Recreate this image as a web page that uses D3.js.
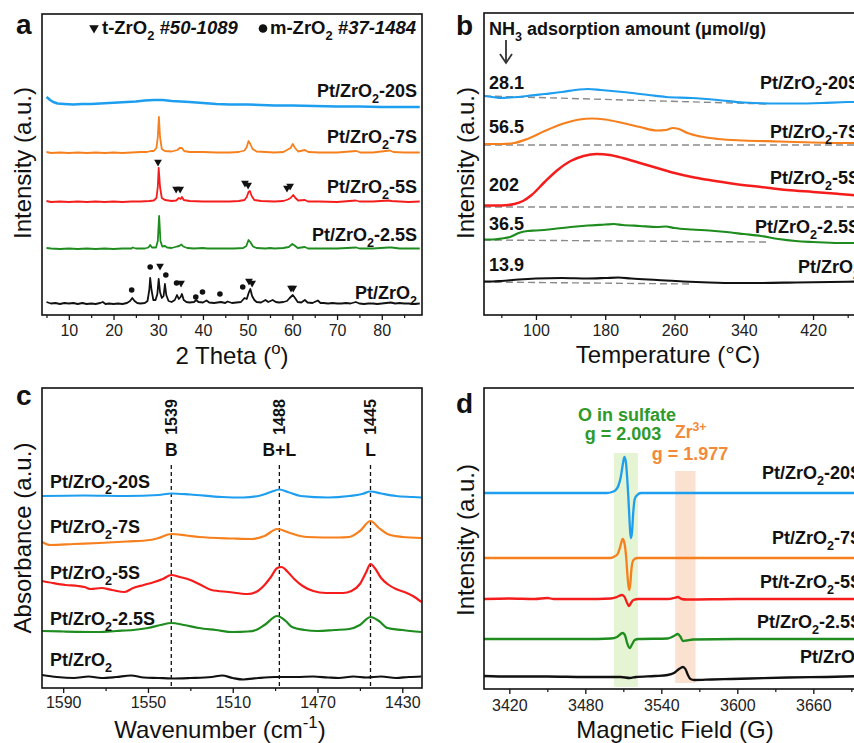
<!DOCTYPE html>
<html><head><meta charset="utf-8">
<script src="https://cdn.jsdelivr.net/npm/d3@7"></script>
<style>body{margin:0;background:#fff} svg{display:block} text{font-family:"Liberation Sans",Arial,Helvetica,sans-serif}</style>
</head><body>
<svg id="c" width="854" height="743"></svg>
<script>
// ================= DATA =================
// Panel a: XRD (2θ, relative intensity)
const xrdNames = ["Pt/ZrO_{2}-20S","Pt/ZrO_{2}-7S","Pt/ZrO_{2}-5S","Pt/ZrO_{2}-2.5S","Pt/ZrO_{2}"];
const xrdOffsets = [208, 162, 113, 66, 11];
const xrd20S = [[5,10],[5.3,9],[5.8,7],[6.5,5],[7.5,3.5],[9,3],[11,2.5],[13,3],[15,3],[17,3.5],[19,4],[21,4.5],[23,5],[25,5.5],[27,6.5],[29,7],[31,7],[33,6],[35,5.5],[37,5],[40,4],[43,3],[46,2.5],[50,2.5],[53,2],[56,1.5],[60,1.5],[65,1],[70,0.5],[75,0.5],[80,0],[85,0],[88.5,0]];
const xrd7S = [[5,1],[6,0],[8,0.5],[10,0],[12,0.5],[14,0],[16,0.5],[18,0],[20,0.5],[22,0],[24,0.5],[26,1],[27.5,1],[28.3,2],[29,2],[29.6,5],[29.9,16],[30.15,36],[30.4,16],[30.8,4],[31.5,2],[33,1.5],[34.3,3],[34.8,5],[35.3,5],[35.8,2],[37,1],[40,1],[43,0.5],[46,0.5],[48,1],[49.3,2.5],[49.8,6],[50.2,12],[50.6,9],[51.1,4],[52,1.5],[54,1],[56,0.5],[58,1],[59.2,4],[59.6,5],[60.1,9],[60.6,5],[61.3,1.5],[62.8,3],[63.6,1],[66,0.5],[70,0.5],[74.3,2],[75.2,0.5],[78,0.5],[81.8,2.5],[82.6,1],[85,0.5],[88.5,0.5]];
const xrd5S = [[5,1],[6,0],[8,0.5],[10,0],[12,0.5],[14,0],[16,0.5],[18,0],[20,0.5],[22,0],[24,0.5],[26,0.5],[28,1],[29,1.5],[29.6,4],[29.9,15],[30.1,34],[30.4,15],[30.8,4],[31.5,2],[33,1],[34,1.5],[34.6,4],[35,3],[35.3,5],[35.7,2],[37,1],[40,0.5],[43,0.5],[46,0.5],[48,1],[49.3,2],[49.8,5],[50.2,10],[50.5,11],[50.9,6],[51.5,2],[53,1],[56,0.5],[58,1],[59,2.5],[59.6,4],[60.2,7],[60.7,4],[61.3,1.5],[62.8,2],[63.5,0.5],[66,0.5],[70,0],[74.2,1.5],[75,0.5],[78,0.5],[81.5,1.5],[82.2,1],[84,0.5],[86,0],[88.5,0.5]];
const xrd25S = [[5,1],[6,0.5],[8,0],[10,0.5],[12,0],[14,0.5],[16,0],[18,0.5],[20,0],[22,0.5],[24,0.5],[24.3,1.5],[25,0.5],[27,0.5],[27.8,1.5],[28.2,4],[28.6,1.5],[29.5,1.5],[29.9,8],[30.2,33],[30.5,8],[30.9,2.5],[31.5,3],[32,1.5],[33,1],[34.2,2.5],[34.7,3],[35.2,4.5],[35.6,2.5],[36.5,1],[38,0.5],[40,1],[41,0.5],[43,0.5],[45,0.5],[47,0.5],[49,1],[49.7,3],[50.2,9],[50.6,7],[51.2,2.5],[52,1],[54,0.5],[55,1],[56,0.5],[58,1],[59.2,2],[60,5],[60.5,3.5],[61.2,1],[62.8,2],[63.5,0.5],[66,0.5],[70,0.5],[74.3,1.5],[75,0.5],[78,0.5],[81.5,1.5],[82.2,1.5],[84,0.5],[86,0.5],[88.5,0.5]];
const xrd0S = [[5,2],[6,0.5],[7,1],[8,0],[9,1],[10,0.5],[11,1],[12,0],[13,1],[14,0],[15,0.5],[16,0],[17,1],[17.6,2],[18.2,0],[19,0.5],[20,0],[21,0.5],[22,0],[23,1],[23.7,3],[24.2,6],[24.7,3],[25.3,1],[26,0.5],[27,1],[27.6,3],[28.0,14],[28.2,26],[28.5,14],[28.9,4],[29.4,4],[29.8,10],[30.1,25],[30.4,12],[30.8,6],[31.2,8],[31.5,20],[31.8,9],[32.3,3],[33,2],[33.7,4],[34.2,9],[34.6,5],[35.0,7],[35.3,10],[35.7,4],[36.3,2],[37,1.5],[38,2],[38.5,4],[39,2],[40,1.5],[40.8,3.5],[41.4,1.5],[42.5,1],[44,2],[45,1],[45.5,2.5],[46.5,1],[47.5,1.5],[48.5,2],[49.3,6],[49.8,5],[50.3,12],[50.6,15],[51,8],[51.5,4],[52,2],[53,1.5],[54,4],[54.6,2],[55.6,4],[56.3,2],[57,1.5],[58,2],[58.8,3],[59.4,6],[60.1,9],[60.6,6],[61.2,2],[62,1.5],[62.8,4],[63.4,1.5],[64.5,1],[65.7,3.5],[66.3,1],[67,1],[68,0.5],[69,1],[70,0.5],[71,0.5],[72,1],[73,0.5],[74.2,2],[75,0.5],[76,0],[77,0.5],[78,0.5],[79,0],[80,0.5],[81,1],[82,1.5],[83,0.5],[84,1],[85,0.5],[86,0.5],[87,0],[88.5,0.5]];
const xrdSeries = [xrd20S, xrd7S, xrd5S, xrd25S, xrd0S];
// phase markers (2θ, intensity level)
const tMarks = [[29.95,153],[34.0,126],[34.9,126],[49.4,132],[50.1,130],[58.8,127],[59.5,129],[30.4,49],[35.1,32],[50.3,34],[51.0,32],[59.7,27],[60.2,27]];
const mMarks = [[24.06,25],[28.2,48],[31.7,40],[34.1,32],[38.4,18],[39.9,23],[43.8,21],[48.9,28]];
const xrdTicks = [10,20,30,40,50,60,70,80];

// Panel b: NH3-TPD (°C, relative intensity)
const tpdNames = ["Pt/ZrO_{2}-20S","Pt/ZrO_{2}-7S","Pt/ZrO_{2}-5S","Pt/ZrO_{2}-2.5S","Pt/ZrO_{2}"];
const tpdAmounts = ["28.1","56.5","202","36.5","13.9"];
const tpdOffsets = [219, 171, 110, 76, 34];
const tpd20S = [[40,0],[50,-1],[60,-2],[70,-1.5],[90,0],[110,2],[130,4],[150,6.5],[160,7],[175,6],[200,4],[230,1],[250,-1],[280,-2],[310,-4],[340,-6.5],[370,-7.5],[400,-7.5],[430,-7],[460,-6],[480,-6]];
const tpd7S = [[40,0],[60,0],[75,1],[90,5],[110,13],[130,20],[150,24.5],[165,25.5],[180,24.5],[200,21],[220,17],[240,13.5],[250,14],[258,16],[265,15],[275,11],[290,7.5],[310,5],[340,3.5],[380,2.5],[420,1.5],[460,1],[480,1]];
const tpd5S = [[40,-0.5],[60,-0.5],[75,1],[85,4],[95,10],[110,23],[125,35],[140,44],[155,49],[170,51],[185,50],[200,47],[220,42],[240,37],[260,32],[280,28],[300,25],[330,21],[360,18],[390,15],[420,13],[450,11],[480,9]];
const tpd25S = [[40,-0.5],[50,-0.5],[60,0.5],[70,2],[80,6],[90,8],[100,8.5],[120,10],[140,12],[160,13.5],[180,14.5],[190,15],[200,14],[220,13],[240,12],[250,12.5],[260,11],[280,9.5],[300,8.5],[320,7],[340,5],[360,3],[380,0],[400,-2],[420,-3],[450,-4],[480,-4]];
const tpd0S = [[40,-0.5],[50,-0.5],[60,0],[80,1.5],[100,2.5],[130,3],[160,2.5],[180,3],[195,3.5],[210,2.5],[240,1],[270,-0.5],[300,-1.5],[330,-2],[360,-2],[400,-1.5],[440,-1],[480,-0.5]];
const tpdSeries = [tpd20S, tpd7S, tpd5S, tpd25S, tpd0S];
const tpdBaselines = [[[40,0],[367,-8]], [[40,-1],[480,-1]], [[40,-2],[480,-2]], [[40,-1],[367,-3]], [[40,-1],[281,-3]]];
const tpdTicks = [100,180,260,340,420];

// Panel c: pyridine IR (cm-1, relative absorbance)
const irNames = ["Pt/ZrO_{2}-20S","Pt/ZrO_{2}-7S","Pt/ZrO_{2}-5S","Pt/ZrO_{2}-2.5S","Pt/ZrO_{2}"];
const irOffsets = [192, 148, 103, 58, 11];
const ir20S = [[1600,0],[1580,0.5],[1560,0],[1545,1],[1539,2.5],[1530,1.5],[1515,-1],[1505,-1.5],[1497,0.5],[1492,4],[1488,6.5],[1484,4],[1478,0],[1465,-1.5],[1455,0],[1449,2],[1445,4.5],[1440,2.5],[1433,0],[1425,-1],[1421,-1.5]];
const ir7S = [[1600,-2],[1596,-5],[1585,-4],[1573,-3],[1560,-1.5],[1549,0],[1545,2],[1539,6],[1532,4.5],[1526,3],[1510,1.5],[1501,1],[1495,4],[1489,11],[1483,7],[1475,3],[1460,2.5],[1455,3],[1450,9],[1445,19],[1441,12],[1437,6],[1430,3],[1421,2]];
const ir5S = [[1600,4],[1595,2],[1589,0],[1583,-1],[1580,-2],[1577,-4],[1572,-3],[1567,-5],[1561,-7],[1557,-3],[1552,0],[1547,3],[1543,6],[1539,10],[1535,8],[1530,5],[1525,0],[1520,-5],[1512,-7],[1503,-9],[1499,-7],[1495,0],[1492,8],[1489,17],[1487,18],[1484,13],[1481,6],[1477,-1],[1472,-6],[1466,-8],[1458,-8],[1454,-6],[1450,1],[1447,13],[1445,21],[1443,17],[1440,7],[1437,1],[1433,-4],[1429,-7],[1425,-11],[1421,-17]];
const ir25S = [[1600,-1],[1590,-1.5],[1573,-2],[1565,-1],[1557,0],[1550,2],[1544,5],[1539,7],[1533,5],[1526,2],[1518,0],[1510,-2],[1503,-1.5],[1499,0],[1495,5],[1489,14],[1485,9],[1482,3],[1476,0],[1470,-1],[1462,0],[1455,1],[1450,5],[1445,13],[1441,9],[1437,2],[1430,0],[1421,-2]];
const ir0S = [[1600,2],[1593,0],[1585,-1],[1578,0.5],[1572,-1],[1565,0],[1558,1.5],[1552,-0.5],[1545,-1],[1539,-1.5],[1530,-1],[1520,0],[1515,1.5],[1510,-1],[1505,-2.5],[1498,-1],[1490,0],[1480,0],[1472,0.5],[1465,-0.5],[1460,-1],[1453,0.5],[1447,-0.5],[1440,0.5],[1433,-1],[1427,0],[1421,0.5]];
const irSeries = [ir20S, ir7S, ir5S, ir25S, ir0S];
const irBands = [1539, 1488, 1445];
const irBandNames = ["B", "B+L", "L"];
const irTicks = [1590,1550,1510,1470,1430];

// Panel d: EPR (G, relative intensity)
const eprNames = ["Pt/ZrO_{2}-20S","Pt/ZrO_{2}-7S","Pt/t-ZrO_{2}-5S","Pt/ZrO_{2}-2.5S","Pt/ZrO_{2}"];
const eprOffsets = [196, 131, 90, 50, 13];
const epr20S = [[3400,0],[3497,0],[3501,1],[3504,3],[3506,7],[3508,16],[3509.5,28],[3510.8,36],[3512,31],[3513,16],[3514,-5],[3515,-30],[3515.8,-45],[3516.8,-40],[3517.8,-20],[3519,-6],[3521,-2],[3524,0],[3700,0]];
const epr7S = [[3400,0],[3500,0],[3503,1.5],[3505.5,4],[3507.5,11],[3509.5,19],[3511,14],[3512.3,0],[3513.3,-18],[3514.5,-32],[3515.5,-26],[3516.5,-10],[3518,-2],[3521,0],[3700,0]];
const epr5S = [[3400,0],[3420,0.5],[3440,0],[3450,1],[3455,0],[3480,0],[3500,0.5],[3505,2],[3509,4],[3511,2],[3513,-4],[3514.5,-7],[3516,-4],[3518,-1],[3522,0],[3545,0],[3550,1],[3553,2],[3556,0],[3560,-0.5],[3600,0],[3650,0],[3700,0]];
const epr25S = [[3400,0],[3440,0],[3480,0],[3500,0.5],[3505,2],[3509.5,6],[3511.5,3],[3513,-4],[3515,-9],[3517,-5],[3519,-1],[3522,0],[3545,0.5],[3550,3],[3553,5],[3555,2.5],[3557,-2],[3560,-1.5],[3565,-0.5],[3600,0],[3700,0]];
const epr0S = [[3400,0],[3420,-0.5],[3450,-0.5],[3480,-1],[3500,-1],[3508,-1],[3515,-2],[3520,-1],[3535,0],[3545,1],[3550,3],[3554,7],[3557,9],[3559,7],[3561,1],[3563,-3],[3566,-4],[3580,-3.5],[3595,-3],[3610,-2.5],[3640,-1.5],[3670,-1],[3700,0]];
const eprSeries = [epr20S, epr7S, epr5S, epr25S, epr0S];
const eprBandRanges = [[3502.6, 3521.5, 2, 236], [3551, 3567, 6, 218]];
const eprTicks = [3420,3480,3540,3600,3660];

// ================= DRAW =================
const colors = ["#1E9EEF", "#F7801E", "#F51C1C", "#1E8C1E", "#111111"];
const svg = d3.select("#c");
svg.append("rect").attr("width",854).attr("height",743).attr("fill","#fff");

function rich(el, str, fs) {
  const re = /([_^])\{([^}]*)\}/g;
  let last = 0, m, shift = 0;
  const add = (t, dy, size) => { const ts = el.append("tspan").text(t); if (dy) ts.attr("dy", dy); if (size) ts.attr("font-size", size); };
  while ((m = re.exec(str))) {
    if (m.index > last) { add(str.slice(last, m.index), -shift); shift = 0; }
    const d = m[1] === "_" ? fs * 0.32 : -fs * 0.4;
    add(m[2], d - shift, fs * 0.7); shift = d;
    last = re.lastIndex;
  }
  if (last < str.length) add(str.slice(last), -shift);
  return el;
}
function txt(g, x, y, str, fs, opts = {}) {
  const t = g.append("text").attr("x", x).attr("y", y).attr("font-size", fs)
    .attr("font-weight", opts.bold ? "bold" : "normal")
    .attr("fill", opts.fill || "#111")
    .attr("text-anchor", opts.anchor || "start");
  if (opts.italic) t.attr("font-style", "italic");
  if (opts.rotate) t.attr("transform", `rotate(-90,${x},${y})`);
  return rich(t, str, fs);
}

function panel(box, xDomain, yDomain, ticks, minor, pad) {
  const g = svg.append("g");
  const x = d3.scaleLinear().domain(xDomain).range([box.l, box.r]);
  const y = d3.scaleLinear().domain(yDomain).range([box.b, box.t]);
  const clipId = "clip" + Math.round(box.l) + "_" + Math.round(box.t);
  svg.append("clipPath").attr("id", clipId).append("rect")
    .attr("x", box.l).attr("y", box.t).attr("width", box.r - box.l).attr("height", box.b - box.t);
  const ax = g.append("g").attr("transform", `translate(0,${box.b})`)
    .call(d3.axisBottom(x).tickValues(ticks).tickSize(5).tickSizeOuter(0).tickPadding(pad).tickFormat(d3.format("d")));
  ax.select(".domain").remove();
  ax.selectAll("line").attr("stroke", "#111").attr("stroke-width", 1.3);
  ax.selectAll("text").attr("font-size", 16).attr("fill", "#222").attr("font-family", '"Liberation Sans",Arial,sans-serif');
  const mx = g.append("g").attr("transform", `translate(0,${box.b})`)
    .call(d3.axisBottom(x).tickValues(minor).tickSize(3).tickFormat(""));
  mx.select(".domain").remove();
  mx.selectAll("line").attr("stroke", "#111").attr("stroke-width", 1.2);
  const plot = g.append("g").attr("clip-path", `url(#${clipId})`);
  return { g, x, y, plot, frame: () => g.append("rect").attr("x", box.l).attr("y", box.t)
      .attr("width", box.r - box.l).attr("height", box.b - box.t)
      .attr("fill", "none").attr("stroke", "#111").attr("stroke-width", 1.6) };
}

// ---------- Panel a ----------
{
  const P = panel({l:42, r:422, t:14, b:315}, [4, 89], [0, 301], xrdTicks, [5,15,25,35,45,55,65,75,85], 5);
  xrdSeries.forEach((s, i) => {
    const line = d3.line().x(d => P.x(d[0])).y(d => P.y(d[1] + xrdOffsets[i]));
    P.plot.append("path").attr("d", line(s)).attr("fill", "none").attr("stroke", colors[i])
      .attr("stroke-width", i === 0 ? 2.6 : 1.8).attr("stroke-linejoin", "round");
  });
  const tri = d3.symbol().type(d3.symbolTriangle).size(26);
  P.plot.selectAll(".tm").data(tMarks).join("path").attr("d", tri)
    .attr("transform", d => `translate(${P.x(d[0])},${P.y(d[1])}) rotate(180)`).attr("fill", "#111");
  P.plot.selectAll(".mm").data(mMarks).join("circle")
    .attr("cx", d => P.x(d[0])).attr("cy", d => P.y(d[1])).attr("r", 2.8).attr("fill", "#111");
  const ly = [97, 143, 193, 241, 299];
  xrdNames.forEach((n, i) => txt(P.g, 417, ly[i], n, 18, {bold: true, anchor: "end"}));
  // legend
  P.g.append("path").attr("d", d3.symbol().type(d3.symbolTriangle).size(40)).attr("transform", "translate(94,28) rotate(180)").attr("fill", "#111");
  const lg = P.g.append("text").attr("x", 102).attr("y", 34).attr("font-size", 18.5).attr("font-weight", "bold").attr("fill", "#111");
  rich(lg.append("tspan"), "t-ZrO_{2} ", 18.5);
  lg.append("tspan").attr("font-style", "italic").text("#50-1089");
  P.g.append("circle").attr("cx", 263).attr("cy", 28.5).attr("r", 4.3).attr("fill", "#111");
  const lg2 = P.g.append("text").attr("x", 270).attr("y", 34).attr("font-size", 18.5).attr("font-weight", "bold").attr("fill", "#111");
  rich(lg2.append("tspan"), "m-ZrO_{2} ", 18.5);
  lg2.append("tspan").attr("font-style", "italic").text("#37-1484");
  P.frame();
  txt(svg, 16, 34, "a", 28, {bold: true});
  txt(svg, 31, 163, "Intensity (a.u.)", 24, {rotate: true, anchor: "middle"});
  txt(svg, 232, 364, "2 Theta (^{o})", 24, {anchor: "middle"});
}

// ---------- Panel b ----------
{
  const P = panel({l:484, r:865, t:13, b:315}, [40, 480], [0, 302], tpdTicks, [60,140,220,300,380,460], 5);
  tpdBaselines.forEach((s, i) => {
    const line = d3.line().x(d => P.x(d[0])).y(d => P.y(d[1] + tpdOffsets[i]));
    P.plot.append("path").attr("d", line(s)).attr("fill", "none").attr("stroke", "#8a8a8a")
      .attr("stroke-width", 1.4).attr("stroke-dasharray", "7,4");
  });
  tpdSeries.forEach((s, i) => {
    const line = d3.line().curve(d3.curveMonotoneX).x(d => P.x(d[0])).y(d => P.y(d[1] + tpdOffsets[i]));
    P.plot.append("path").attr("d", line(s)).attr("fill", "none").attr("stroke", colors[i])
      .attr("stroke-width", i === 2 ? 2.5 : 2.2).attr("stroke-linejoin", "round");
  });
  const ny = [89, 133, 191, 230, 271];
  tpdAmounts.forEach((n, i) => txt(P.g, 489, ny[i], n, 18, {bold: true}));
  const ly = [89, 138, 184, 233, 273];
  tpdNames.forEach((n, i) => txt(P.g, 860, ly[i], n, 18, {bold: true, anchor: "end"}));
  txt(P.g, 489, 35, "NH_{3} adsorption amount (μmol/g)", 18, {bold: true});
  P.g.append("line").attr("x1", 506).attr("x2", 506).attr("y1", 40).attr("y2", 62).attr("stroke", "#333").attr("stroke-width", 1.8);
  P.g.append("path").attr("d", "M500,54 L506,63 L512,54").attr("fill", "none").attr("stroke", "#333").attr("stroke-width", 1.8);
  P.frame();
  txt(svg, 456, 35, "b", 28, {bold: true});
  txt(svg, 474, 163, "Intensity (a.u.)", 24, {rotate: true, anchor: "middle"});
  txt(svg, 668, 363, "Temperature (°C)", 24, {anchor: "middle"});
}

// ---------- Panel c ----------
{
  const P = panel({l:42, r:422, t:388, b:688}, [1600, 1420.7], [0, 300], irTicks, [1570,1530,1490,1450], 4);
  irBands.forEach((b, i) => {
    P.plot.append("line").attr("x1", P.x(b)).attr("x2", P.x(b)).attr("y1", 465).attr("y2", 688)
      .attr("stroke", "#111").attr("stroke-width", 1.3).attr("stroke-dasharray", "4,3");
    txt(P.g, P.x(b), 456, irBandNames[i], 17.5, {bold: true, anchor: "middle"});
    txt(P.g, P.x(b) + 6, 417, String(b), 16, {bold: true, anchor: "middle", rotate: true});
  });
  irSeries.forEach((s, i) => {
    const line = d3.line().curve(d3.curveMonotoneX).x(d => P.x(d[0])).y(d => P.y(d[1] + irOffsets[i]));
    P.plot.append("path").attr("d", line(s)).attr("fill", "none").attr("stroke", colors[i])
      .attr("stroke-width", 2.2).attr("stroke-linejoin", "round");
  });
  const ly = [488, 533, 579, 625, 666];
  irNames.forEach((n, i) => txt(P.g, 50, ly[i], n, 18, {bold: true}));
  P.frame();
  txt(svg, 16, 405, "c", 28, {bold: true});
  txt(svg, 31, 538, "Absorbance (a.u.)", 24, {rotate: true, anchor: "middle"});
  txt(svg, 220, 738, "Wavenumber (cm^{-1})", 24, {anchor: "middle"});
}

// ---------- Panel d ----------
{
  const P = panel({l:484, r:865, t:388, b:689}, [3400, 3700.8], [0, 301], eprTicks, [3450,3510,3570,3630,3690], 6);
  const bandFill = ["#E5F4D2", "#FBE1CF"];
  eprBandRanges.forEach((r, i) => {
    P.plot.append("rect").attr("x", P.x(r[0])).attr("width", P.x(r[1]) - P.x(r[0]))
      .attr("y", P.y(r[3])).attr("height", P.y(r[2]) - P.y(r[3])).attr("fill", bandFill[i]);
  });
  eprSeries.forEach((s, i) => {
    const line = d3.line().curve(d3.curveMonotoneX).x(d => P.x(d[0])).y(d => P.y(d[1] + eprOffsets[i]));
    P.plot.append("path").attr("d", line(s)).attr("fill", "none").attr("stroke", colors[i])
      .attr("stroke-width", 2.3).attr("stroke-linejoin", "round");
  });
  const ly = [479, 544, 588, 628, 663];
  eprNames.forEach((n, i) => txt(P.g, 862, ly[i], n, 18, {bold: true, anchor: "end"}));
  txt(P.g, 627, 421, "O in sulfate", 18, {bold: true, anchor: "middle", fill: "#2E9A2A"});
  txt(P.g, 623, 440, "g = 2.003", 18, {bold: true, anchor: "middle", fill: "#2E9A2A"});
  txt(P.g, 675, 438, "Zr^{3+}", 17.5, {bold: true, fill: "#F28A3A"});
  txt(P.g, 690, 460, "g = 1.977", 18, {bold: true, anchor: "middle", fill: "#F28A3A"});
  P.frame();
  txt(svg, 456, 413, "d", 28, {bold: true});
  txt(svg, 474, 540, "Intensity (a.u.)", 24, {rotate: true, anchor: "middle"});
  txt(svg, 675, 738, "Magnetic Field (G)", 24, {anchor: "middle"});
}
</script></body></html>
